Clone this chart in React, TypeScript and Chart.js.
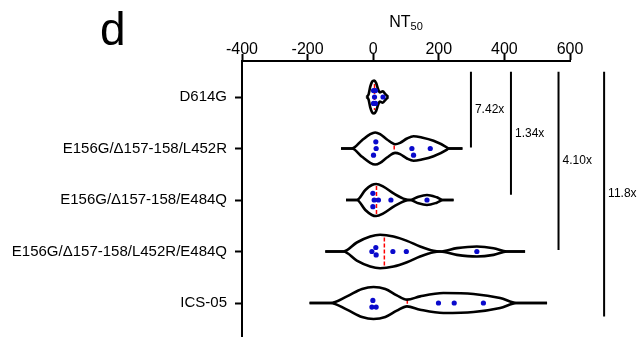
import React, { useEffect, useRef } from "react";
import { Chart, registerables } from "chart.js";

Chart.register(...registerables);

const categories = [
  "D614G",
  "E156G/Δ157-158/L452R",
  "E156G/Δ157-158/E484Q",
  "E156G/Δ157-158/L452R/E484Q",
  "ICS-05",
];
const xTickMin = -400;
const xTickMax = 600;
const xTickStep = 200;

// violin outlines: [NT50 value, half-width in category units]
const violinD614G = [[-20, 0], [-14, 0.05], [-9, 0.2], [-3, 0.3], [3, 0.32], [9, 0.27], [15, 0.15], [20, 0.09], [29, 0.11], [38, 0.05], [46, 0]];
const violinL452R = [[-98, 0], [-65, 0], [-34, 0.162], [-9, 0.278], [6, 0.311], [21, 0.278], [42, 0.175], [67, 0.084], [82, 0.11], [103, 0.194], [123, 0.239], [148, 0.214], [184, 0.149], [225, 0.02], [229, 0], [272, 0]];
const violinE484Q = [[-83, 0], [-50, 0], [-24, 0.194], [-4, 0.291], [9, 0.311], [31, 0.259], [62, 0.129], [98, 0.013], [113, 0], [138, 0.065], [164, 0.097], [194, 0.052], [214, 0], [245, 0]];
const violinL452RE484Q = [[-146, 0], [-91, 0], [-50, 0.175], [-9, 0.291], [21, 0.324], [62, 0.291], [103, 0.207], [143, 0.097], [184, 0.013], [204, 0], [255, 0.065], [316, 0.097], [367, 0.065], [408, 0], [463, 0]];
const violinICS05 = [[-194, 0], [-131, 0], [-80, 0.129], [-34, 0.272], [1, 0.311], [37, 0.272], [72, 0.149], [103, 0.065], [143, 0.129], [214, 0.194], [306, 0.175], [387, 0.097], [438, 0], [530, 0]];

// individual NT50 values and their vertical jitter (category units)
const dotsD614G = [1, 7, 4, 1, 7, 30];
const jitterD614G = [-0.125, -0.125, 0, 0.125, 0.125, 0];
const dotsL452R = [8, 9, 1, 118, 123, 174];
const jitterL452R = [-0.13, 0, 0.13, 0, 0.13, 0];
const dotsE484Q = [-1, 3, 16, -1, 54, 164];
const jitterE484Q = [-0.13, 0, 0, 0.13, 0, 0];
const dotsL452RE484Q = [-4, 8, 9, 60, 101, 316];
const jitterL452RE484Q = [0, -0.078, 0.066, 0, 0, 0];
const dotsICS05 = [-1, -4, 9, 199, 247, 336];
const jitterICS05 = [-0.05, 0.078, 0.078, 0, 0, 0];

const medians = [4, 64, 10, 34, 104];
const medianHalf = [0.25, 0.06, 0.27, 0.27, 0.065];

// fold-change brackets
const foldLabels = ["7.42x", "1.34x", "4.10x", "11.8x"];
const foldLineX = [298, 420, 565, 704];
const foldLineTop = -0.49;
const foldLineBottom = [0.98, 1.9, 2.97, 4.26];

const violins = [violinD614G, violinL452R, violinE484Q, violinL452RE484Q, violinICS05];
const dotSets = [dotsD614G, dotsL452R, dotsE484Q, dotsL452RE484Q, dotsICS05];
const jitterSets = [jitterD614G, jitterL452R, jitterE484Q, jitterL452RE484Q, jitterICS05];

const FONT = '"Liberation Sans", Arial, sans-serif';

export default function App() {
  const ref = useRef<HTMLCanvasElement | null>(null);

  useEffect(() => {
    document.body.style.margin = "0";
    const canvas = ref.current;
    if (!canvas) return;

    const datasets: any[] = [];
    violins.forEach((v, i) => {
      const common = {
        showLine: true,
        pointRadius: 0,
        borderColor: "#000",
        borderWidth: 2.6,
        cubicInterpolationMode: "monotone",
        fill: false,
        order: 1,
      };
      datasets.push({ ...common, data: v.map(([x, h]) => ({ x, y: i - h })) });
      datasets.push({ ...common, data: v.map(([x, h]) => ({ x, y: i + h })) });
    });
    medians.forEach((m, i) => {
      datasets.push({
        showLine: true,
        pointRadius: 0,
        borderColor: "#ff0000",
        borderWidth: 1.5,
        borderDash: [4, 2],
        order: 2,
        data: [
          { x: m, y: i - medianHalf[i] },
          { x: m, y: i + medianHalf[i] },
        ],
      });
    });
    dotSets.forEach((d, i) => {
      datasets.push({
        showLine: false,
        pointRadius: 2.6,
        pointBorderWidth: 0,
        backgroundColor: "#0a0acc",
        borderColor: "#0a0acc",
        order: 0,
        data: d.map((x, k) => ({ x, y: i + jitterSets[i][k] })),
      });
    });
    foldLineX.forEach((x, i) => {
      datasets.push({
        showLine: true,
        pointRadius: 0,
        borderColor: "#000",
        borderWidth: 2,
        clip: false,
        order: 1,
        data: [
          { x, y: foldLineTop },
          { x, y: foldLineBottom[i] },
        ],
      });
    });

    const textPlugin = {
      id: "texts",
      afterDraw(chart: any) {
        const ctx = chart.ctx;
        const xs = chart.scales.x;
        const ys = chart.scales.y;
        ctx.save();
        ctx.fillStyle = "#000";
        ctx.font = `12px ${FONT}`;
        ctx.textAlign = "left";
        ctx.textBaseline = "middle";
        foldLabels.forEach((t, i) => {
          const px = xs.getPixelForValue(foldLineX[i]) + 4;
          const py = ys.getPixelForValue((foldLineTop + foldLineBottom[i]) / 2);
          ctx.fillText(t, px, py);
        });
        // panel letter
        ctx.textBaseline = "alphabetic";
        ctx.font = `46px ${FONT}`;
        ctx.fillText("d", 100, 45);
        // axis title NT50
        const cx = (xs.left + xs.right) / 2;
        ctx.font = `16px ${FONT}`;
        const w1 = ctx.measureText("NT").width;
        ctx.font = `11px ${FONT}`;
        const w2 = ctx.measureText("50").width;
        const x0 = cx - (w1 + w2) / 2;
        ctx.font = `16px ${FONT}`;
        ctx.fillText("NT", x0, 27);
        ctx.font = `11px ${FONT}`;
        ctx.fillText("50", x0 + w1, 30);
        ctx.restore();
      },
    };

    const chart = new Chart(canvas, {
      type: "scatter",
      data: { datasets },
      plugins: [textPlugin],
      options: {
        animation: false,
        responsive: false,
        events: [],
        layout: { autoPadding: false, padding: { left: 0, right: 73, top: 0, bottom: 0 } },
        plugins: { legend: { display: false }, tooltip: { enabled: false } },
        scales: {
          x: {
            type: "linear",
            position: "top",
            min: xTickMin,
            max: xTickMax,
            ticks: {
              stepSize: xTickStep,
              color: "#000",
              font: { family: FONT, size: 16 },
              padding: -5,
            },
            grid: {
              display: true,
              drawOnChartArea: false,
              drawTicks: true,
              tickLength: 7,
              tickColor: "#000",
              tickWidth: 2,
            },
            border: { display: true, color: "#000", width: 2 },
            afterFit(scale: any) {
              scale.height = 61;
              scale.paddingLeft = 0;
              scale.paddingRight = 0;
              scale.paddingTop = 0;
              scale.paddingBottom = 0;
            },
          },
          y: {
            type: "linear",
            position: "left",
            reverse: true,
            min: -0.699,
            max: 4.66,
            afterBuildTicks(scale: any) {
              scale.ticks = categories.map((_, i) => ({ value: i }));
            },
            ticks: {
              color: "#000",
              font: { family: FONT, size: 15 },
              padding: 8,
              autoSkip: false,
              callback: (v: any) => categories[v as number] ?? "",
            },
            grid: {
              display: true,
              drawOnChartArea: false,
              drawTicks: true,
              tickLength: 7,
              tickColor: "#000",
              tickWidth: 2,
            },
            border: { display: true, color: "#000", width: 2 },
            afterFit(scale: any) {
              scale.width = 242;
              scale.paddingLeft = 0;
              scale.paddingRight = 0;
              scale.paddingTop = 0;
              scale.paddingBottom = 0;
            },
          },
        },
      } as any,
    });
    return () => chart.destroy();
  }, []);

  return (
    <div style={{ width: 643, height: 337, background: "#fff" }}>
      <canvas ref={ref} width={643} height={337} />
    </div>
  );
}
